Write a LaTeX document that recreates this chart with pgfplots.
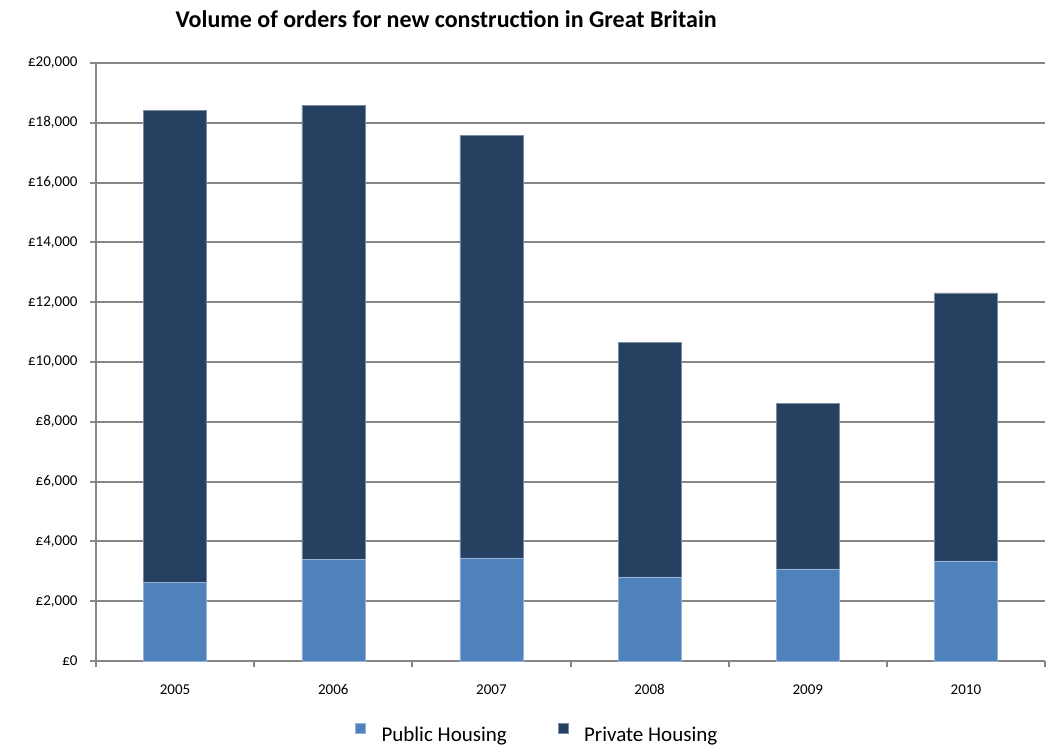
\documentclass[border=0pt]{standalone}
\usepackage{pgfplots}
\pgfplotsset{compat=1.18}
\usepackage{fontspec}
\setmainfont{Carlito}
\definecolor{pub}{HTML}{4F81BD}
\definecolor{priv}{HTML}{254061}
\definecolor{gridc}{HTML}{868686}
\begin{document}
\begin{tikzpicture}[x=1pt,y=1pt]
\path[use as bounding box] (-96,-86) rectangle (954,661);
\begin{axis}[
  at={(0,0)}, anchor=south west,
  scale only axis, width=949pt, height=598pt,
  ybar stacked, bar width=63pt,
  xmin=-0.5, xmax=5.5, ymin=0, ymax=20000,
  scaled y ticks=false,
  xtick={0,1,2,3,4,5},
  xticklabels={2005,2006,2007,2008,2009,2010},
  minor xtick={-0.5,0.5,1.5,2.5,3.5,4.5,5.5},
  major x tick style={draw=none},
  ytick={0,2000,...,20000},
  yticklabels={{£0},{£2,000},{£4,000},{£6,000},{£8,000},{£10,000},{£12,000},{£14,000},{£16,000},{£18,000},{£20,000}},
  tick align=outside,
  major tick length=6pt, minor tick length=6pt,
  axis lines*=left,
  axis line style={-, gridc, line width=2pt},
  tick style={gridc, line width=2pt},
  ymajorgrids, grid style={gridc, line width=2pt},
  tick label style={font=\fontsize{15}{18}\selectfont, black},
  xticklabel style={yshift=-14pt},
  yticklabel style={xshift=-9pt},
  ylabel={\textcolor{gridc}{\rule{0.8pt}{8pt}}},
  ylabel style={at={(axis description cs:0,0.441)}, anchor=center, xshift=-84pt},
  title={Volume of orders for new construction in Great Britain},
  title style={font=\bfseries\fontsize{24}{28}\selectfont, at={(axis description cs:0.369,1)}, anchor=center, yshift=38pt},
  legend columns=2,
  legend style={at={(axis description cs:0.465,-0.122)}, anchor=center, draw=none, fill=none,
    font=\fontsize{21}{25}\selectfont,
    /tikz/every even column/.append style={column sep=49pt}},
  legend image code/.code={\fill[#1] (0pt,1pt) rectangle (10pt,11pt); \path[draw=none,fill=none] (0pt,0pt) rectangle (24pt,1pt);},
]
\addplot+[fill=pub, draw=pub!60!white, line width=0.5pt] coordinates {(0,2640) (1,3410) (2,3445) (3,2810) (4,3080) (5,3345)};
\addplot+[fill=priv, draw=priv!60!white, line width=0.5pt] coordinates {(0,15765) (1,15175) (2,14145) (3,7835) (4,5535) (5,8965)};
\legend{Public Housing, Private Housing}
\end{axis}
\end{tikzpicture}
\end{document}
